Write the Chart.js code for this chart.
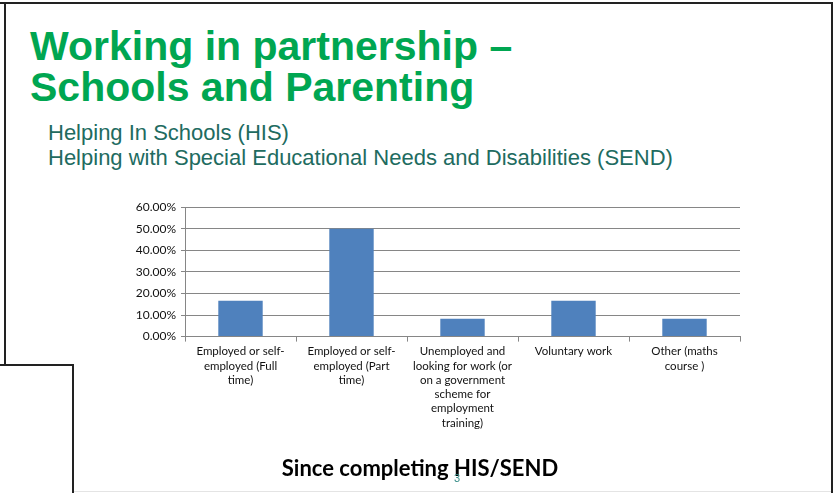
<!DOCTYPE html>
<html>
<head>
<meta charset="utf-8">
<script src="https://cdn.jsdelivr.net/npm/chart.js@4"></script>
<style>
  body { margin: 0; background: #fff; }
  #slide { position: relative; width: 833px; height: 493px; overflow: hidden; background: #fff; }
  .line { position: absolute; background: #222; }
  h1 { position: absolute; left: 30px; top: 26px; margin: 0; font: bold 41px/41px "Liberation Sans", Arial, sans-serif; color: #00a651; }
  .sub { position: absolute; left: 48px; top: 120px; font: 22px/25px "Liberation Sans", Arial, sans-serif; color: #216b5f; }
  #pagenum { position: absolute; left: 454px; top: 472px; font: 11px "Liberation Sans", Arial, sans-serif; color: #3a8f8a; }
  canvas { position: absolute; left: 100px; top: 195px; }
</style>
</head>
<body>
<div id="slide">
  <div class="line" style="left:0;top:2px;width:833px;height:2px"></div>
  <div class="line" style="left:4px;top:2px;width:2px;height:364px"></div>
  <div class="line" style="left:831px;top:2px;width:2px;height:491px"></div>
  <div class="line" style="left:0;top:364px;width:74px;height:2px"></div>
  <div class="line" style="left:72px;top:364px;width:2px;height:129px"></div>
  <div class="line" style="left:74px;top:491px;width:757px;height:1px;background:#e4e4e4"></div>

  <h1>Working in partnership –<br>Schools and Parenting</h1>
  <div class="sub">Helping In Schools (HIS)<br>Helping with Special Educational Needs and Disabilities (SEND)</div>

  <canvas id="grafica" width="680" height="297"></canvas>
  <div id="pagenum">3</div>
</div>

<script>
// Datos del gráfico
const categorias = [
    ['Employed or self-', 'employed (Full', 'time)'],
    ['Employed or self-', 'employed (Part', 'time)'],
    ['Unemployed and', 'looking for work (or', 'on a government', 'scheme for', 'employment', 'training)'],
    ['Voluntary work'],
    ['Other (maths', 'course )']
];
const valores = [0.1667, 0.5, 0.0833, 0.1667, 0.0833];
const yTicks = [0, 0.1, 0.2, 0.3, 0.4, 0.5, 0.6];
const tituloInferior = 'Since completing HIS/SEND';

const gris = '#868686';

new Chart(document.getElementById('grafica'), {
    type: 'bar',
    data: {
        labels: categorias,
        datasets: [{
            data: valores,
            backgroundColor: '#4f81bd',
            borderWidth: 0,
            categoryPercentage: 1,
            barPercentage: 0.4
        }]
    },
    options: {
        responsive: false,
        animation: false,
        devicePixelRatio: 1,
        layout: { padding: { top: 12, right: 40, left: 0, bottom: 0 } },
        plugins: {
            legend: { display: false },
            tooltip: { enabled: false },
            title: {
                display: true,
                position: 'bottom',
                text: tituloInferior,
                color: '#000',
                font: { family: 'Lato', size: 22, weight: 'bold' },
                padding: { top: 4, bottom: 10 }
            }
        },
        scales: {
            x: {
                afterFit: (s) => { s.height = 115; },
                grid: { drawOnChartArea: false, drawTicks: true, tickLength: 5, color: gris, offset: true },
                border: { color: gris },
                ticks: {
                    autoSkip: false, maxRotation: 0, minRotation: 0, padding: 3,
                    color: '#111',
                    font: { family: 'Lato', size: 11.5, lineHeight: 1.24 }
                }
            },
            y: {
                min: 0,
                max: 0.6,
                afterFit: (s) => { s.width = 85; },
                afterBuildTicks: (s) => { s.ticks = yTicks.map(v => ({ value: v })); },
                grid: { color: gris, tickLength: 4 },
                border: { color: gris },
                ticks: {
                    padding: 5,
                    color: '#111',
                    font: { family: 'Lato', size: 12 },
                    callback: (v) => (v * 100).toFixed(2) + '%'
                }
            }
        }
    }
});
</script>
</body>
</html>
